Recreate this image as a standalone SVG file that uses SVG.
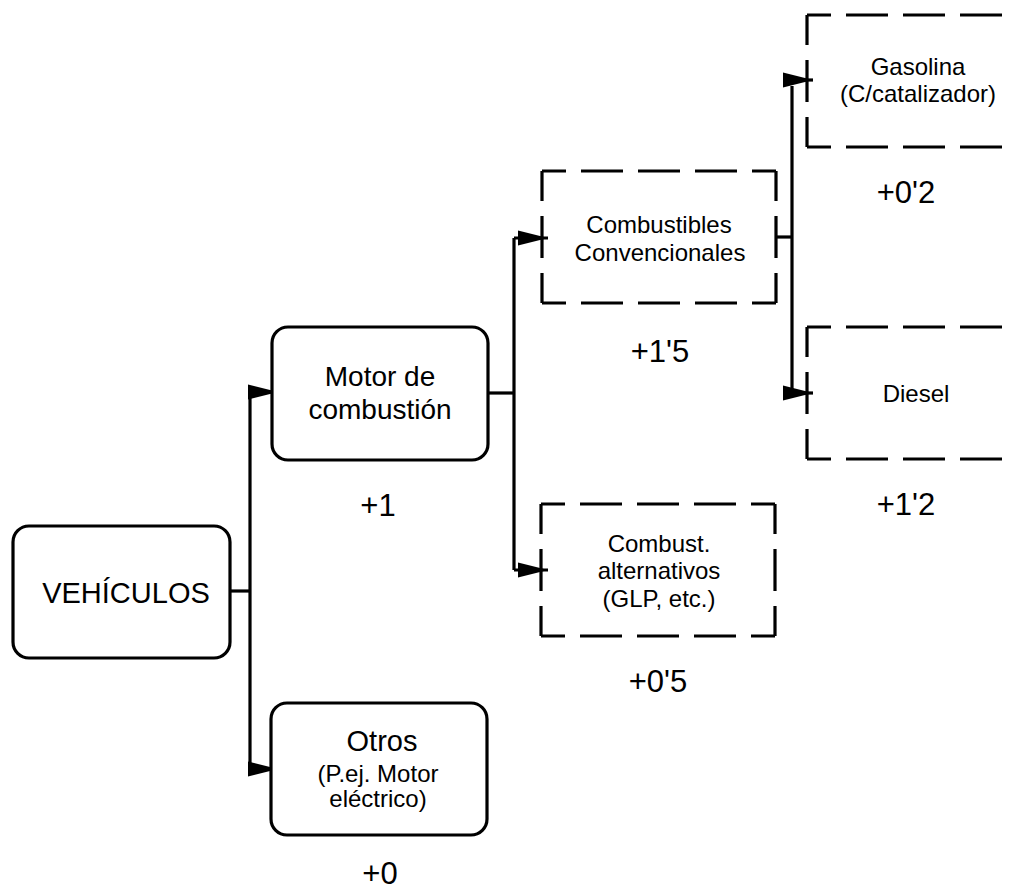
<svg xmlns="http://www.w3.org/2000/svg" width="1014" height="891" viewBox="0 0 1014 891">
  <defs>
    <marker id="arrow" markerUnits="userSpaceOnUse" markerWidth="32" markerHeight="18" refX="30" refY="0" viewBox="0 -9 32 18" orient="auto" overflow="visible">
      <path d="M0,-7.5 L30,0 L0,7.5 Z" fill="#000"/>
    </marker>
    <style>
      .box { fill: #fff; stroke: #000; stroke-width: 3.2; }
      .dh { stroke: #000; stroke-width: 3.2; stroke-dasharray: 42 15; stroke-dashoffset: 18; fill: none; }
      .dv { stroke: #000; stroke-width: 3.2; stroke-dasharray: 42 15; stroke-dashoffset: 12; fill: none; }
      .wire { fill: none; stroke: #000; stroke-width: 3.2; }
      .arr { fill: none; stroke: #000; stroke-width: 3.2; marker-end: url(#arrow); }
      text { font-family: "Liberation Sans", Arial, sans-serif; fill: #000; text-anchor: middle; }
      .big { font-size: 29px; }
      .mid { font-size: 28px; }
      .small { font-size: 24px; }
      .score { font-size: 31px; }
    </style>
  </defs>

  <!-- connectors -->
  <g id="connectors">
    <path class="wire" d="M230,591 H250"/>
    <path class="wire" d="M250,392 V769"/>
    <path class="arr" d="M250,392 H278"/>
    <path class="arr" d="M250,769 H278"/>

    <path class="wire" d="M488,393 H514"/>
    <path class="wire" d="M514,238 V570"/>
    <path class="arr" d="M514,238 H548"/>
    <path class="arr" d="M514,570 H548"/>

    <path class="wire" d="M776,237 H792"/>
    <path class="wire" d="M792,86 V393"/>
    <path class="arr" d="M792,80 H813"/>
    <path class="arr" d="M792,393 H813"/>
  </g>

  <!-- root -->
  <g id="vehiculos">
    <rect class="box" x="13" y="526" width="217" height="132" rx="16"/>
    <text class="big" x="126" y="603">VEHÍCULOS</text>
  </g>

  <g id="motor-combustion">
    <rect class="box" x="272" y="327" width="216" height="133" rx="16"/>
    <text class="mid" x="380" y="386">Motor de</text>
    <text class="mid" x="380" y="419">combustión</text>
    <text class="score" x="378" y="516">+1</text>
  </g>

  <g id="otros">
    <rect class="box" x="271" y="703" width="216" height="132" rx="16"/>
    <text class="big" x="382" y="751">Otros</text>
    <text class="small" x="378" y="782">(P.ej. Motor</text>
    <text class="small" x="378" y="807">eléctrico)</text>
    <text class="score" x="380" y="884">+0</text>
  </g>

  <!-- dashed category boxes -->
  <g id="convencionales">
    <line class="dh" x1="542" y1="171" x2="776" y2="171"/>
    <line class="dh" x1="542" y1="303" x2="776" y2="303"/>
    <line class="dv" x1="542" y1="171" x2="542" y2="303"/>
    <line class="dv" x1="776" y1="171" x2="776" y2="303"/>
    <text class="small" x="659" y="233">Combustibles</text>
    <text class="small" x="660" y="261">Convencionales</text>
    <text class="score" x="660" y="362">+1'5</text>
  </g>

  <g id="alternativos">
    <line class="dh" x1="541" y1="504" x2="775" y2="504"/>
    <line class="dh" x1="541" y1="636" x2="775" y2="636"/>
    <line class="dv" x1="541" y1="504" x2="541" y2="636"/>
    <line class="dv" x1="775" y1="504" x2="775" y2="636"/>
    <text class="small" x="659" y="552">Combust.</text>
    <text class="small" x="659" y="579">alternativos</text>
    <text class="small" x="659" y="607">(GLP, etc.)</text>
    <text class="score" x="658" y="692">+0'5</text>
  </g>

  <g id="gasolina">
    <line class="dh" x1="807" y1="15" x2="1041" y2="15"/>
    <line class="dh" x1="807" y1="147" x2="1041" y2="147"/>
    <line class="dv" x1="807" y1="15" x2="807" y2="147"/>
    <text class="small" x="918" y="75">Gasolina</text>
    <text class="small" x="918" y="102">(C/catalizador)</text>
    <text class="score" x="906" y="203">+0'2</text>
  </g>

  <g id="diesel">
    <line class="dh" x1="807" y1="327" x2="1041" y2="327"/>
    <line class="dh" x1="807" y1="459" x2="1041" y2="459"/>
    <line class="dv" x1="807" y1="327" x2="807" y2="459"/>
    <text class="small" x="916" y="402">Diesel</text>
    <text class="score" x="906" y="515">+1'2</text>
  </g>
</svg>
